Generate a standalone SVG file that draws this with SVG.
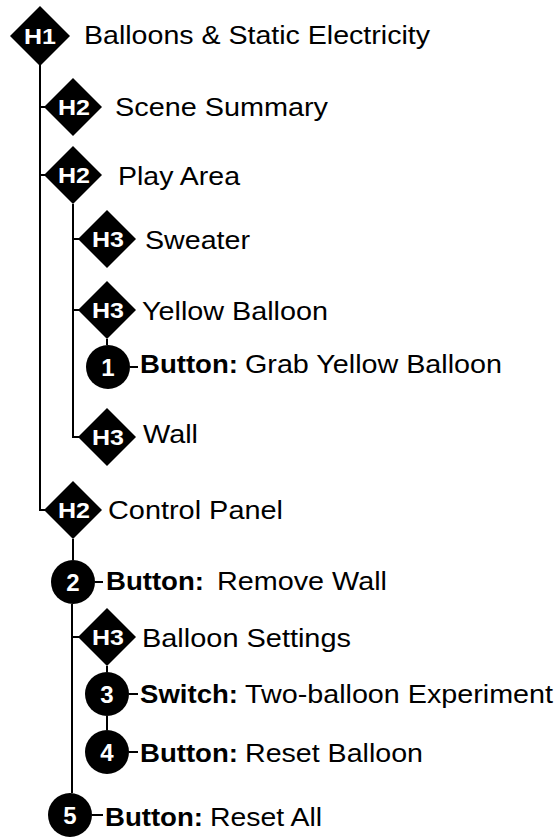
<svg xmlns="http://www.w3.org/2000/svg" xmlns:xlink="http://www.w3.org/1999/xlink" width="557" height="840" viewBox="0 0 557 840">
<style>
.t{font-family:"Liberation Sans",Arial,sans-serif;font-size:26px;fill:#000}
.b{font-weight:bold}
.lbl{font-family:"Liberation Sans",Arial,sans-serif;font-weight:bold;font-size:22px;fill:#fff;text-anchor:middle}
.num{font-size:24px}
.c{stroke:#000;stroke-width:2;fill:none}
</style>
<defs>
<path id="dia" d="M0,-29 L29,0 L0,29 L-29,0 Z" fill="#000"/>
</defs>
<rect width="557" height="840" fill="#fff"/>
<g id="connectors" class="c">
<path d="M40,64 V510 H45"/>
<path d="M40,107 H45"/>
<path d="M40,175 H45"/>
<path d="M73,204 V437 H79"/>
<path d="M73,239 H79"/>
<path d="M73,310 H79"/>
<path d="M107,339 V345"/>
<path d="M130,367 H138"/>
<path d="M73,539 V560"/>
<path d="M72,604 V793"/>
<path d="M72,637 H79"/>
<path d="M95,582 H103"/>
<path d="M107,666 V672"/>
<path d="M107,716 V730"/>
<path d="M129,694 H138"/>
<path d="M129,752 H138"/>
<path d="M92,815 H103"/>
</g>
<g id="h1">
<path d="M40,6 L70,36 L40,66 L10,36 Z" fill="#000"/>
<text class="lbl" x="40" y="44" textLength="32" lengthAdjust="spacingAndGlyphs">H1</text>
<text class="t" x="84" y="44" textLength="346" lengthAdjust="spacingAndGlyphs">Balloons &amp; Static Electricity</text>
</g>
<g id="scene-summary">
<use xlink:href="#dia" x="73" y="107"/>
<text class="lbl" x="74" y="115" textLength="32" lengthAdjust="spacingAndGlyphs">H2</text>
<text class="t" x="115" y="116" textLength="213" lengthAdjust="spacingAndGlyphs">Scene Summary</text>
</g>
<g id="play-area">
<use xlink:href="#dia" x="73" y="175"/>
<text class="lbl" x="74" y="183" textLength="32" lengthAdjust="spacingAndGlyphs">H2</text>
<text class="t" x="118" y="185" textLength="122" lengthAdjust="spacingAndGlyphs">Play Area</text>
</g>
<g id="sweater">
<use xlink:href="#dia" x="107" y="239"/>
<text class="lbl" x="108" y="247" textLength="32" lengthAdjust="spacingAndGlyphs">H3</text>
<text class="t" x="145" y="249" textLength="105" lengthAdjust="spacingAndGlyphs">Sweater</text>
</g>
<g id="yellow-balloon">
<use xlink:href="#dia" x="107" y="310"/>
<text class="lbl" x="108" y="318" textLength="32" lengthAdjust="spacingAndGlyphs">H3</text>
<text class="t" x="142" y="320" textLength="186" lengthAdjust="spacingAndGlyphs">Yellow Balloon</text>
</g>
<g id="button-1">
<circle cx="108" cy="367" r="22" fill="#000"/>
<text class="lbl num" x="108" y="376">1</text>
<text class="t b" x="140" y="373" textLength="98" lengthAdjust="spacingAndGlyphs">Button:</text>
<text class="t" x="245" y="373" textLength="257" lengthAdjust="spacingAndGlyphs">Grab Yellow Balloon</text>
</g>
<g id="wall">
<use xlink:href="#dia" x="107" y="437"/>
<text class="lbl" x="108" y="445" textLength="32" lengthAdjust="spacingAndGlyphs">H3</text>
<text class="t" x="143" y="443" textLength="55" lengthAdjust="spacingAndGlyphs">Wall</text>
</g>
<g id="control-panel">
<use xlink:href="#dia" x="73" y="510"/>
<text class="lbl" x="74" y="518" textLength="32" lengthAdjust="spacingAndGlyphs">H2</text>
<text class="t" x="108" y="519" textLength="175" lengthAdjust="spacingAndGlyphs">Control Panel</text>
</g>
<g id="button-2">
<circle cx="73" cy="582" r="22" fill="#000"/>
<text class="lbl num" x="73" y="591">2</text>
<text class="t b" x="106" y="590" textLength="98" lengthAdjust="spacingAndGlyphs">Button:</text>
<text class="t" x="217" y="590" textLength="170" lengthAdjust="spacingAndGlyphs">Remove Wall</text>
</g>
<g id="balloon-settings">
<use xlink:href="#dia" x="107" y="637"/>
<text class="lbl" x="108" y="645" textLength="32" lengthAdjust="spacingAndGlyphs">H3</text>
<text class="t" x="142" y="647" textLength="209" lengthAdjust="spacingAndGlyphs">Balloon Settings</text>
</g>
<g id="switch-3">
<circle cx="107" cy="694" r="22" fill="#000"/>
<text class="lbl num" x="107" y="703">3</text>
<text class="t b" x="140" y="703" textLength="98" lengthAdjust="spacingAndGlyphs">Switch:</text>
<text class="t" x="245" y="703" textLength="308" lengthAdjust="spacingAndGlyphs">Two-balloon Experiment</text>
</g>
<g id="button-4">
<circle cx="107" cy="752" r="22" fill="#000"/>
<text class="lbl num" x="107" y="761">4</text>
<text class="t b" x="140" y="762" textLength="98" lengthAdjust="spacingAndGlyphs">Button:</text>
<text class="t" x="245" y="762" textLength="178" lengthAdjust="spacingAndGlyphs">Reset Balloon</text>
</g>
<g id="button-5">
<circle cx="70" cy="815" r="22" fill="#000"/>
<text class="lbl num" x="70" y="824">5</text>
<text class="t b" x="105" y="826" textLength="98" lengthAdjust="spacingAndGlyphs">Button:</text>
<text class="t" x="210" y="826" textLength="112" lengthAdjust="spacingAndGlyphs">Reset All</text>
</g>
</svg>
